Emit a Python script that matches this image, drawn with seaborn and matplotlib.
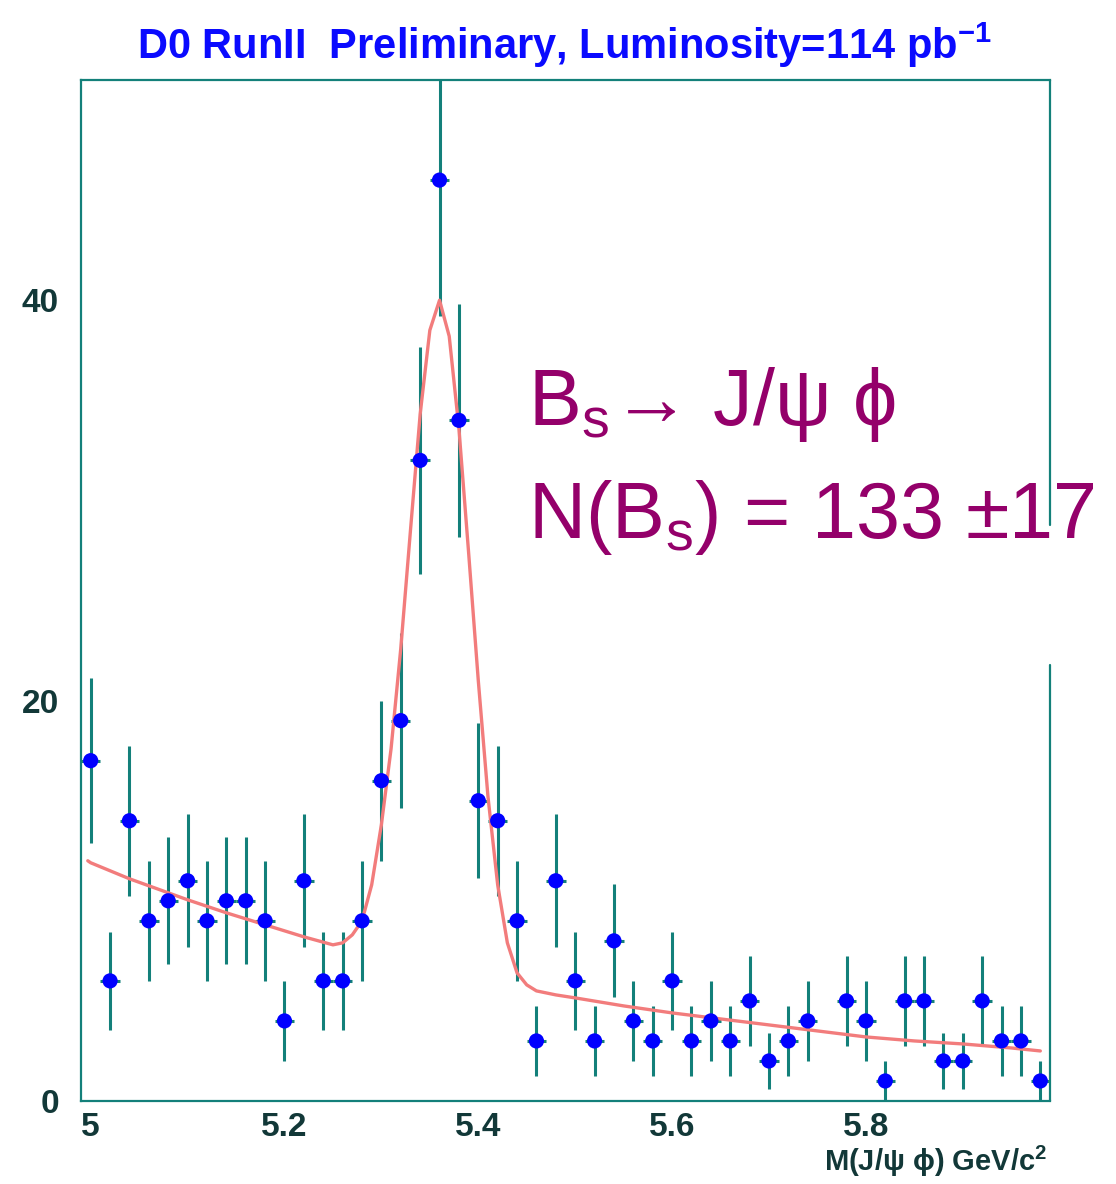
import numpy as np
import pandas as pd
import matplotlib
matplotlib.use("Agg")
import matplotlib.pyplot as plt
import matplotlib.font_manager as fm
from matplotlib.ticker import MultipleLocator
import seaborn as sns

# bin centres (GeV/c^2) and event counts per 20 MeV bin
mass = [5.00, 5.02, 5.04, 5.06, 5.08, 5.10, 5.12, 5.14, 5.16, 5.18,
        5.20, 5.22, 5.24, 5.26, 5.28, 5.30, 5.32, 5.34, 5.36, 5.38,
        5.40, 5.42, 5.44, 5.46, 5.48, 5.50, 5.52, 5.54, 5.56, 5.58,
        5.60, 5.62, 5.64, 5.66, 5.68, 5.70, 5.72, 5.74, 5.76, 5.78,
        5.80, 5.82, 5.84, 5.86, 5.88, 5.90, 5.92, 5.94, 5.96, 5.98]
counts = [17, 6, 14, 9, 10, 11, 9, 10, 10, 9,
          4, 11, 6, 6, 9, 16, 19, 32, 46, 34,
          15, 14, 9, 3, 11, 6, 3, 8, 4, 3,
          6, 3, 4, 3, 5, 2, 3, 4, 0, 5,
          4, 1, 5, 5, 2, 2, 5, 3, 3, 1]

# fit curve
fit_x = [4.997, 5.00, 5.04, 5.08, 5.10, 5.14, 5.18, 5.22, 5.25, 5.26,
         5.27, 5.28, 5.29, 5.30, 5.31, 5.32, 5.33, 5.34, 5.35, 5.36,
         5.37, 5.38, 5.39, 5.40, 5.41, 5.42, 5.43, 5.44, 5.45, 5.46,
         5.48, 5.50, 5.55, 5.60, 5.65, 5.70, 5.75, 5.80, 5.85, 5.90,
         5.95, 5.98]
fit_y = [12.0, 11.9, 11.1, 10.4, 10.05, 9.4, 8.8, 8.2, 7.8, 7.9,
         8.3, 9.0, 10.8, 13.8, 17.6, 22.6, 28.5, 34.3, 38.5, 40.0,
         38.2, 33.6, 27.4, 21.0, 15.2, 10.8, 7.9, 6.4, 5.8, 5.5,
         5.3, 5.15, 4.75, 4.4, 4.1, 3.8, 3.5, 3.2, 3.0, 2.85,
         2.65, 2.5]

xticks = [5.0, 5.2, 5.4, 5.6, 5.8]
xtick_labels = ["5", "5.2", "5.4", "5.6", "5.8"]
yticks = [0, 20, 40]
ytick_labels = ["0", "20", "40"]

TEAL = "#13807a"
BLUE = "#0000ff"
FIT = "#f27c7c"
PURPLE = "#94006a"

sns.set_style("white")
installed = {f.name for f in fm.fontManager.ttflist}
narrow = "Liberation Sans Narrow" if "Liberation Sans Narrow" in installed else "Liberation Sans"
plt.rcParams["font.family"] = [narrow, "DejaVu Sans"]
plt.rcParams["mathtext.fontset"] = "custom"
plt.rcParams["mathtext.rm"] = "Liberation Sans"
plt.rcParams["mathtext.bf"] = narrow + ":bold"

fig = plt.figure(figsize=(11.16, 11.84), dpi=100)
ax = fig.add_axes([81 / 1116, 83 / 1184, 969 / 1116, 1021 / 1184])

df = pd.DataFrame({"mass": mass, "counts": counts})
df = df[df["counts"] > 0]

ax.errorbar(df["mass"], df["counts"], yerr=np.sqrt(df["counts"]), xerr=0.01,
            fmt="none", ecolor=TEAL, elinewidth=2.2, capsize=0, zorder=2)
sns.lineplot(x=fit_x, y=fit_y, ax=ax, color=FIT, lw=2.4, zorder=3, sort=False)
sns.scatterplot(data=df, x="mass", y="counts", ax=ax, color=BLUE, s=120,
                marker="o", edgecolor="none", zorder=4, legend=False)

ax.set_xlim(4.99, 5.99)
ax.set_ylim(0, 51)
ax.set_xticks(xticks)
ax.set_xticklabels(xtick_labels)
ax.set_yticks(yticks)
ax.set_yticklabels(ytick_labels)
ax.xaxis.set_minor_locator(MultipleLocator(0.05))
ax.yaxis.set_minor_locator(MultipleLocator(5))
ax.set_xlabel("")
ax.set_ylabel("")

ax.tick_params(which="both", direction="in", color=TEAL, width=1.6,
               top=False, right=False, labelsize=24, labelcolor="#123838")
ax.tick_params(which="major", length=15)
ax.tick_params(which="minor", length=6)
ax.tick_params(axis="x", pad=8)
ax.tick_params(axis="y", pad=16)
for lab in ax.get_xticklabels() + ax.get_yticklabels():
    lab.set_fontweight("bold")

for side in ["left", "bottom", "top"]:
    ax.spines[side].set_color(TEAL)
    ax.spines[side].set_linewidth(1.6)
ax.spines["right"].set_visible(False)
# right frame is interrupted behind the yield label
ax.plot([1, 1], [0, 0.427], transform=ax.transAxes, color=TEAL, lw=1.6, clip_on=False)
ax.plot([1, 1], [0.564, 1], transform=ax.transAxes, color=TEAL, lw=1.6, clip_on=False)

fig.text(0.506, 0.962, r"D0 RunII  Preliminary, Luminosity=114 pb$^{\mathbf{-1}}$",
         ha="center", va="center", color="#0a0aff", fontsize=30, fontweight="bold")
fig.text(0.938, 1 - 1171 / 1184, r"M(J/ψ ϕ) GeV/c$^{\mathbf{2}}$", ha="right", va="baseline",
         color="#123838", fontsize=21, fontweight="bold")

fig.text(528 / 1116, 1 - 425 / 1184, r"B$_\mathrm{s}$→ J/ψ ϕ", ha="left",
         va="baseline", color=PURPLE, fontsize=57, family=["Liberation Sans", "DejaVu Sans"])
fig.text(528 / 1116, 1 - 538 / 1184, r"N(B$_\mathrm{s}$) = 133 ±17", ha="left", va="baseline",
         color=PURPLE, fontsize=57, family=["Liberation Sans", "DejaVu Sans"])

fig.savefig("out.png", dpi=100, facecolor="white")
